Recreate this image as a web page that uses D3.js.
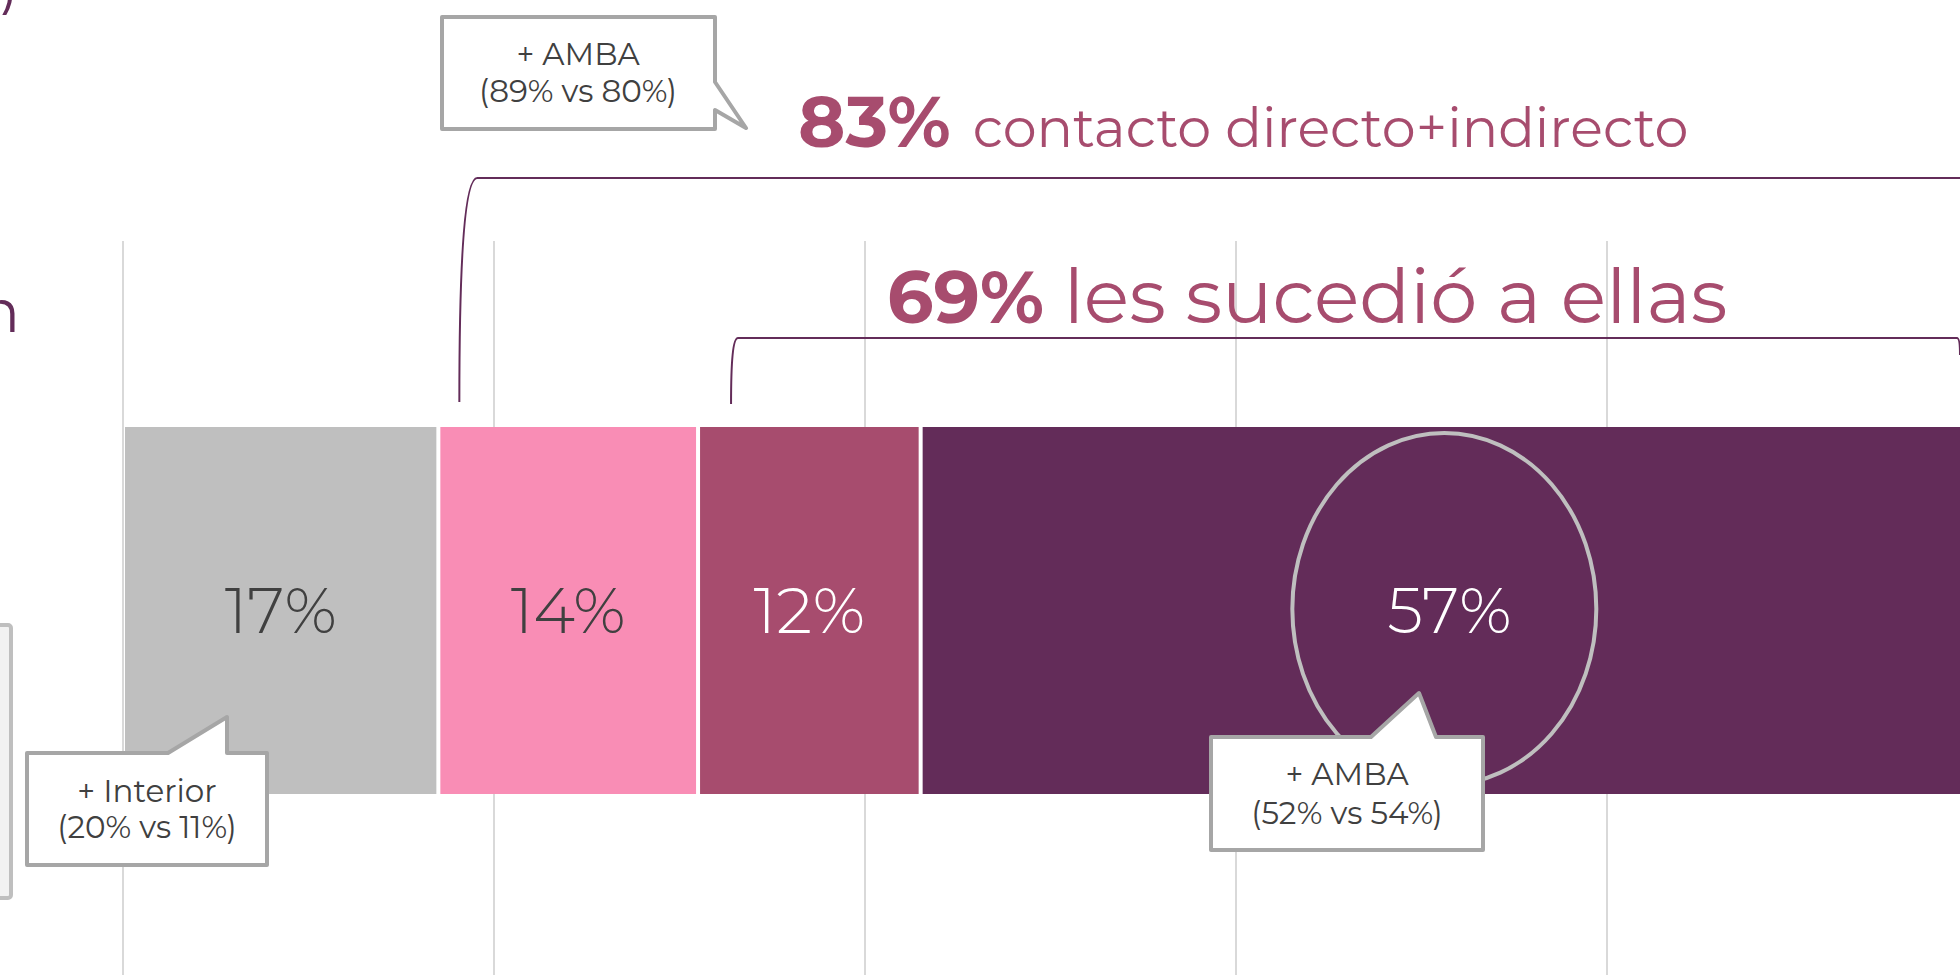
<!DOCTYPE html>
<html>
  <head>
    <meta charset="utf-8">
    <title>Contacto con la violencia</title>
    <script src="https://cdn.jsdelivr.net/npm/d3@7"></script>
    <style>
      body { margin: 0; background: #fff; }
      svg { display: block; font-family: Montserrat, "Noto Sans", sans-serif; }
      .grid line { stroke: #d9d9d9; stroke-width: 2; }
      .callout path { fill: #fff; stroke: #a6a6a6; stroke-width: 4; stroke-linejoin: round; }
      .callout text { fill: #404040; font-size: 31px; text-anchor: middle; }
    </style>
  </head>
  <body>
    <svg id="chart"></svg>

    <script>
// data
var segments = ["Sin contacto", "Indirecto", "Directo otros", "Les sucedió a ellas"];
var values = [17, 14, 12, 57];
var colors = ["#bfbfbf", "#f98db5", "#a74c6e", "#632c59"];
var labelColors = ["#404040", "#404040", "#ffffff", "#ffffff"];
var ticks = [0, 20, 40, 60, 80, 100];

var bracketValues = [83, 69];
var bracketLabels = ["contacto directo+indirecto", "les sucedió a ellas"];
var bracketFrom = [17, 31];

var calloutTitles = ["+ AMBA", "+ Interior", "+ AMBA"];
var calloutDetails = ["(89% vs 80%)", "(20% vs 11%)", "(52% vs 54%)"];

var width = 1960, height = 975;

var svg = d3.select("#chart")
    .attr("width", width)
    .attr("height", height);

var x = d3.scaleLinear().domain([0, 100]).range([123, 1978]);
var y = d3.scaleBand().domain(["total"]).range([427, 794]);

// stacked starts
var starts = [0].concat(Array.from(d3.cumsum(values))).slice(0, values.length);
var rows = values.map(function(v, i) {
  return {name: segments[i], value: v, start: starts[i], color: colors[i], label: labelColors[i]};
});

// gridlines
svg.append("g").attr("class", "grid")
  .selectAll("line")
  .data(ticks)
  .enter().append("line")
    .attr("x1", function(d) { return x(d); })
    .attr("x2", function(d) { return x(d); })
    .attr("y1", 241)
    .attr("y2", height);

// left pieces cut by the frame
svg.append("text")
    .attr("x", 19).attr("y", 4)
    .attr("text-anchor", "end")
    .attr("fill", "#632c59")
    .style("font-size", "58px")
    .text("(en %)");

svg.append("text")
    .attr("x", 20).attr("y", 332)
    .attr("text-anchor", "end")
    .attr("fill", "#632c59")
    .style("font-size", "60px")
    .text("Total población");

svg.append("rect")
    .attr("x", -200).attr("y", 625)
    .attr("width", 211).attr("height", 273)
    .attr("rx", 3)
    .attr("fill", "#f2f2f2")
    .attr("stroke", "#bfbfbf")
    .attr("stroke-width", 4);

// bars
var bar = svg.append("g").attr("class", "bars")
  .selectAll("g")
  .data(rows)
  .enter().append("g");

bar.append("rect")
    .attr("x", function(d) { return x(d.start) + 2; })
    .attr("y", y("total"))
    .attr("width", function(d) { return x(d.value) - x(0) - 4; })
    .attr("height", y.bandwidth())
    .attr("fill", function(d) { return d.color; });

// highlight ring round the big segment
var big = rows[3];
svg.append("ellipse")
    .attr("cx", x(big.start + big.value / 2) - 5)
    .attr("cy", 609)
    .attr("rx", 152)
    .attr("ry", 176)
    .attr("fill", "none")
    .attr("stroke", "#bfbfbf")
    .attr("stroke-width", 4);

bar.append("text")
    .attr("x", function(d) { return x(d.start + d.value / 2); })
    .attr("y", y("total") + y.bandwidth() / 2)
    .attr("dy", "0.35em")
    .attr("text-anchor", "middle")
    .attr("fill", function(d) { return d.label; })
    .style("font-size", "64px")
    .style("font-weight", 300)
    .text(function(d) { return d.value + "%"; });

// brackets
var bracketG = svg.append("g").attr("class", "brackets")
    .attr("fill", "none").attr("stroke", "#632c59").attr("stroke-width", 2);

var b1 = x(bracketFrom[0]) + 21;
bracketG.append("path")
    .attr("d", "M" + b1 + ",402 C" + b1 + ",250 " + (b1 + 6) + ",178 " + (b1 + 18) + ",178 H" + (width + 10));

var b2 = x(bracketFrom[1]) + 33;
bracketG.append("path")
    .attr("d", "M" + b2 + ",404 C" + b2 + ",360 " + (b2 + 2) + ",338 " + (b2 + 7) + ",338 H" + (width - 3) +
      " C" + (width - 1) + ",338 " + width + ",345 " + width + ",355");

var heads = [{x: 798, y: 147, big: 72, small: 54, gap: 8}, {x: 887, y: 323, big: 73, small: 75, gap: 0}];
heads.forEach(function(h, i) {
  var t = svg.append("text")
      .attr("x", h.x).attr("y", h.y)
      .attr("fill", "#a74c6e");
  t.append("tspan")
      .style("font-size", h.big + "px")
      .style("font-weight", 700)
      .text(bracketValues[i] + "%");
  t.append("tspan")
      .attr("dx", h.gap)
      .style("font-size", h.small + "px")
      .text(" " + bracketLabels[i]);
});

// callouts
var callouts = [
  {d: "M442,17 H715 V82 L746,128 L715,110 V129 H442 Z", cx: 578, y1: 65, y2: 102},
  {d: "M27,753 H168 L227,717 V753 H267 V865 H27 Z", cx: 147, y1: 802, y2: 838},
  {d: "M1211,737 H1371 L1419,693 L1436,737 H1483 V850 H1211 Z", cx: 1347, y1: 785, y2: 824}
];

var call = svg.selectAll(".callout")
  .data(callouts)
  .enter().append("g")
    .attr("class", "callout");

call.append("path").attr("d", function(d) { return d.d; });
call.append("text")
    .attr("x", function(d) { return d.cx; })
    .attr("y", function(d) { return d.y1; })
    .text(function(d, i) { return calloutTitles[i]; });
call.append("text")
    .attr("x", function(d) { return d.cx; })
    .attr("y", function(d) { return d.y2; })
    .text(function(d, i) { return calloutDetails[i]; });
    </script>
  </body>
</html>
